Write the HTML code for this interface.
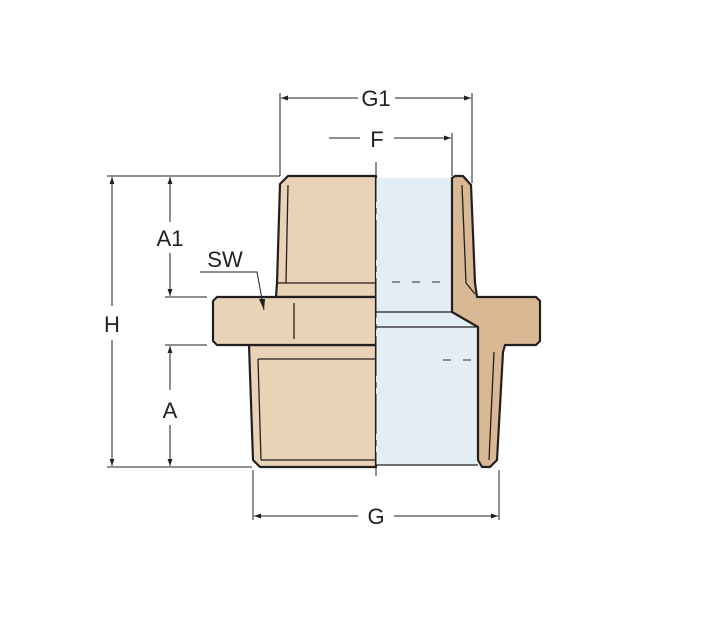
<!DOCTYPE html>
<html><head><style>
html,body{margin:0;padding:0;background:#fff;width:712px;height:637px;overflow:hidden}
svg{display:block}
text{font-family:"Liberation Sans",sans-serif;fill:#231f20}
</style></head><body>
<svg width="712" height="637" viewBox="0 0 712 637" xmlns="http://www.w3.org/2000/svg">
<defs>
<marker id="ar" viewBox="0 0 10 10" refX="10" refY="5" markerWidth="10" markerHeight="7" orient="auto-start-reverse" markerUnits="userSpaceOnUse">
<path d="M0,1.5 L10,5 L0,8.5 z" fill="#231f20"/></marker>
</defs>
<g stroke="#231f20" stroke-width="2.2" stroke-linejoin="round">
<polygon points="376,176 288,176 280,184 277,283 276,297 376,297" fill="#e8d3b6"/>
<polygon points="376,345 249,345 253,460 260,467 376,467" fill="#e8d3b6"/>
<polygon points="376,297 217,297 213,301 213,341 217,345 376,345" fill="#e8d3b6"/>
<rect x="376" y="178" width="76" height="134" fill="#e2eef3" stroke="none"/>
<polygon points="376,312 452,312 478,327 478,465 376,465" fill="#e2eef3" stroke="none"/>
<polygon points="455,176 463,176 471,185 475,283 477,297 536,297 540,301 540,341 536,345 505,345 503,352 497,460 490,467 482,467 478,460 478,327 452,312 452,178" fill="#d9b894"/>
</g>
<g stroke="#231f20" stroke-width="1.3" fill="none">
<line x1="288" y1="185" x2="286" y2="283"/>
<line x1="286" y1="283" x2="376" y2="283"/>
<line x1="278" y1="283" x2="286" y2="283"/>
<line x1="258" y1="359" x2="376" y2="359"/>
<line x1="258" y1="359" x2="261" y2="460"/>
<line x1="261" y1="460" x2="376" y2="460"/>
<line x1="294" y1="303" x2="294" y2="339"/>
<line x1="376" y1="312" x2="452" y2="312"/>
<line x1="376" y1="327" x2="478" y2="327"/>
<line x1="376" y1="465" x2="478" y2="465"/>
<line x1="462" y1="185" x2="466" y2="283"/>
<line x1="466" y1="283" x2="475" y2="294"/>
<line x1="494" y1="352" x2="489" y2="460"/>
</g>
<g stroke="#555" stroke-width="1.2" stroke-dasharray="8,12">
<line x1="392" y1="282" x2="452" y2="282"/>
<line x1="443" y1="360" x2="478" y2="360"/>
</g>
<line x1="376" y1="162" x2="376" y2="476" stroke="#231f20" stroke-width="1" stroke-dasharray="40,6,6,6"/>
<g stroke="#231f20" stroke-width="1" fill="none">
<line x1="280" y1="93" x2="280" y2="176"/>
<line x1="472" y1="93" x2="472" y2="183"/>
<line x1="452" y1="133" x2="452" y2="176"/>
<line x1="107" y1="176" x2="280" y2="176"/>
<line x1="165" y1="297" x2="207" y2="297"/>
<line x1="165" y1="345" x2="207" y2="345"/>
<line x1="107" y1="467" x2="252" y2="467"/>
<line x1="253" y1="470" x2="253" y2="520"/>
<line x1="499" y1="470" x2="499" y2="520"/>
<line x1="281" y1="98" x2="358" y2="98" marker-start="url(#ar)"/>
<line x1="395" y1="98" x2="471" y2="98" marker-end="url(#ar)"/>
<line x1="329" y1="138" x2="360" y2="138"/>
<line x1="394" y1="138" x2="451" y2="138" marker-end="url(#ar)"/>
<line x1="112" y1="177" x2="112" y2="306" marker-start="url(#ar)"/>
<line x1="112" y1="340" x2="112" y2="466" marker-end="url(#ar)"/>
<line x1="170" y1="177" x2="170" y2="222" marker-start="url(#ar)"/>
<line x1="170" y1="253" x2="170" y2="296" marker-end="url(#ar)"/>
<line x1="170" y1="346" x2="170" y2="390" marker-start="url(#ar)"/>
<line x1="170" y1="425" x2="170" y2="466" marker-end="url(#ar)"/>
<line x1="254" y1="516" x2="358" y2="516" marker-start="url(#ar)"/>
<line x1="394" y1="516" x2="498" y2="516" marker-end="url(#ar)"/>
<polyline points="200,272 257,272 264,310"/>
</g>
<path d="M264,310 L259,299 L265,299 z" fill="#231f20"/>
<g font-size="22">
<text x="376" y="106" text-anchor="middle">G1</text>
<text x="377" y="147" text-anchor="middle">F</text>
<text x="170" y="246" text-anchor="middle">A1</text>
<text x="225" y="267" text-anchor="middle">SW</text>
<text x="112" y="332" text-anchor="middle">H</text>
<text x="170" y="418" text-anchor="middle">A</text>
<text x="376" y="524" text-anchor="middle">G</text>
</g>
</svg>
</body></html>
